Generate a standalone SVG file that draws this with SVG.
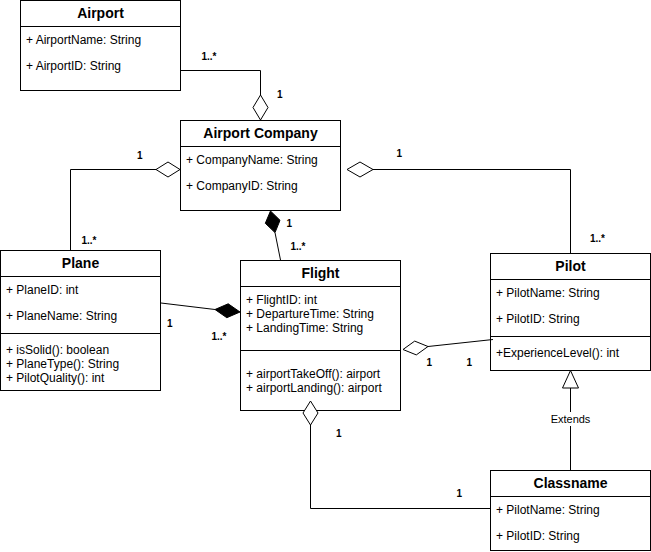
<svg xmlns="http://www.w3.org/2000/svg" width="651" height="552" viewBox="0 0 651 552">
<style>
.box{fill:#fff;stroke:#000;stroke-width:1}
.sep{stroke:#000;stroke-width:1;fill:none}
.hd{font-family:"Liberation Sans",Arial,sans-serif;font-size:14px;font-weight:bold;text-anchor:middle;fill:#000}
.at{font-family:"Liberation Sans",Arial,sans-serif;font-size:12px;fill:#000}
.lb{font-family:"Liberation Sans",Arial,sans-serif;font-size:10px;font-weight:bold;fill:#000}
.ex{font-family:"Liberation Sans",Arial,sans-serif;font-size:11px;text-anchor:middle;fill:#000}
.ln{fill:none;stroke:#000;stroke-width:1}
.od{fill:#fff;stroke:#000;stroke-width:1}
.fd{fill:#000;stroke:#000;stroke-width:1}
</style>
<rect width="651" height="552" fill="#fff"/>
<g id="airport">
<rect class="box" x="20.5" y="0.5" width="160" height="90"/>
<path class="sep" d="M20.5 26.5 H180.5"/>
<text class="hd" x="100.5" y="18">Airport</text>
<text class="at" x="26" y="44">+ AirportName: String</text>
<text class="at" x="26" y="70">+ AirportID: String</text>
</g>
<g id="airport-company">
<rect class="box" x="180.5" y="120.5" width="160" height="90"/>
<path class="sep" d="M180.5 146.5 H340.5"/>
<text class="hd" x="260.5" y="138">Airport Company</text>
<text class="at" x="186" y="164">+ CompanyName: String</text>
<text class="at" x="186" y="190">+ CompanyID: String</text>
</g>
<g id="plane">
<rect class="box" x="0.5" y="250.5" width="160" height="140"/>
<path class="sep" d="M0.5 276.5 H160.5 M0.5 333.5 H160.5"/>
<text class="hd" x="80.5" y="268">Plane</text>
<text class="at" x="6" y="294">+ PlaneID: int</text>
<text class="at" x="6" y="320">+ PlaneName: String</text>
<text class="at" x="6" y="354">+ isSolid(): boolean</text>
<text class="at" x="6" y="368">+ PlaneType(): String</text>
<text class="at" x="6" y="382">+ PilotQuality(): int</text>
</g>
<g id="flight">
<rect class="box" x="240.5" y="260.5" width="160" height="150"/>
<path class="sep" d="M240.5 286.5 H400.5 M240.5 350.5 H400.5"/>
<text class="hd" x="320.5" y="278">Flight</text>
<text class="at" x="246" y="304">+ FlightID: int</text>
<text class="at" x="246" y="318">+ DepartureTime: String</text>
<text class="at" x="246" y="332">+ LandingTime: String</text>
<text class="at" x="246" y="378">+ airportTakeOff(): airport</text>
<text class="at" x="246" y="392">+ airportLanding(): airport</text>
</g>
<g id="pilot">
<rect class="box" x="490.5" y="253.5" width="160" height="117"/>
<path class="sep" d="M490.5 279.5 H650.5 M490.5 336.5 H650.5"/>
<text class="hd" x="570.5" y="271">Pilot</text>
<text class="at" x="496" y="297">+ PilotName: String</text>
<text class="at" x="496" y="323">+ PilotID: String</text>
<text class="at" x="496" y="357">+ExperienceLevel(): int</text>
</g>
<g id="classname">
<rect class="box" x="490.5" y="470.5" width="160" height="80"/>
<path class="sep" d="M490.5 496.5 H650.5"/>
<text class="hd" x="570.5" y="488">Classname</text>
<text class="at" x="496" y="514">+ PilotName: String</text>
<text class="at" x="496" y="540">+ PilotID: String</text>
</g>
<g id="connectors">
<path class="ln" d="M180.5 70.5 H260.5 V95"/>
<path class="od" d="M260.5 95 L268 107.5 L260.5 120 L253 107.5 Z"/>
<path class="ln" d="M156 169.5 H70.5 V250"/>
<path class="od" d="M180 169.5 L168 162 L156 169.5 L168 177 Z"/>
<path class="ln" d="M373 169.5 H570.5 V253"/>
<path class="od" d="M347 169.5 L360 162 L373 169.5 L360 177 Z"/>
<path class="ln" d="M275 232.6 L280.5 260"/>
<path class="fd" d="M270.5 211 L280 220.3 L275 232.6 L265.3 223.3 Z"/>
<path class="ln" d="M161 303 L215 309.5"/>
<path class="fd" d="M215 309.5 L228.2 303.8 L240 312 L226.8 317.7 Z"/>
<path class="ln" d="M428 346.5 L493 339.5"/>
<path class="od" d="M403 349.5 L414.7 341.1 L428 346.5 L416.3 354.9 Z"/>
<path class="ln" d="M570.5 388 V470"/>
<path class="od" d="M570.5 370.5 L578.5 388 L562.5 388 Z"/>
<rect x="550" y="412" width="41" height="14" fill="#fff"/>
<text class="ex" x="570.5" y="423">Extends</text>
<path class="ln" d="M310.5 425 V508.5 H490"/>
<path class="od" d="M310.5 401 L318 413 L310.5 425 L303 413 Z"/>
<text class="lb" x="201.5" y="60">1..*</text>
<text class="lb" x="277" y="98">1</text>
<text class="lb" x="137" y="159">1</text>
<text class="lb" x="81.5" y="244">1..*</text>
<text class="lb" x="286.5" y="227">1</text>
<text class="lb" x="290.5" y="250">1..*</text>
<text class="lb" x="167" y="327">1</text>
<text class="lb" x="211.5" y="340">1..*</text>
<text class="lb" x="396.5" y="157">1</text>
<text class="lb" x="590" y="242">1..*</text>
<text class="lb" x="426.5" y="366">1</text>
<text class="lb" x="466.5" y="366">1</text>
<text class="lb" x="336" y="437">1</text>
<text class="lb" x="456.5" y="497">1</text>
</g>
</svg>
